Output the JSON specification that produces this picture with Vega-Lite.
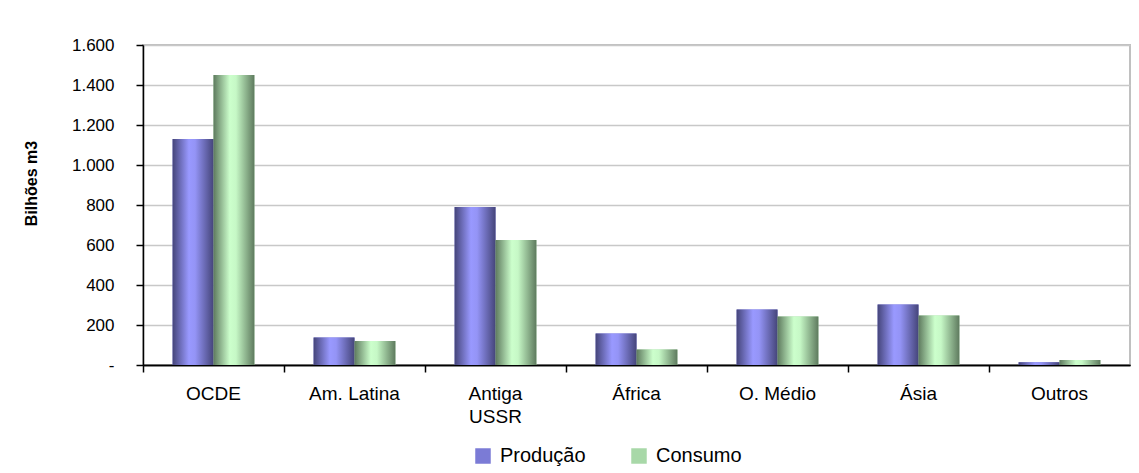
{
  "$schema": "https://vega.github.io/schema/vega-lite/v6.json",
  "width": 987,
  "height": 320,
  "autosize": {"type": "none"},
  "padding": {"left": 143, "top": 45, "right": 9, "bottom": 108},
  "background": "white",
  "config": {
    "font": "Liberation Sans",
    "view": {"stroke": "#c0c0c0", "strokeWidth": 2}
  },
  "data": {
    "values": [
      {"regiao": "OCDE", "serie": "Produção", "valor": 1130},
      {"regiao": "OCDE", "serie": "Consumo", "valor": 1450},
      {"regiao": "Am. Latina", "serie": "Produção", "valor": 137},
      {"regiao": "Am. Latina", "serie": "Consumo", "valor": 120},
      {"regiao": "Antiga USSR", "serie": "Produção", "valor": 790},
      {"regiao": "Antiga USSR", "serie": "Consumo", "valor": 625},
      {"regiao": "África", "serie": "Produção", "valor": 158},
      {"regiao": "África", "serie": "Consumo", "valor": 78},
      {"regiao": "O. Médio", "serie": "Produção", "valor": 278},
      {"regiao": "O. Médio", "serie": "Consumo", "valor": 243},
      {"regiao": "Ásia", "serie": "Produção", "valor": 302},
      {"regiao": "Ásia", "serie": "Consumo", "valor": 248},
      {"regiao": "Outros", "serie": "Produção", "valor": 14},
      {"regiao": "Outros", "serie": "Consumo", "valor": 25}
    ]
  },
  "resolve": {"axis": {"x": "independent"}},
  "encoding": {
    "xOffset": {"field": "serie", "type": "nominal", "sort": ["Produção", "Consumo"], "scale": {"paddingInner": 0, "paddingOuter": 0}},
    "y": {
      "field": "valor",
      "type": "quantitative",
      "scale": {"domain": [0, 1600]},
      "axis": {
        "title": "Bilhões m3",
        "titleFontSize": 16,
        "titleFontWeight": "bold",
        "titleColor": "#000000",
        "titleAngle": -90,
        "titleAlign": "center",
        "titleBaseline": "middle",
        "titleX": -112,
        "titleY": 138,
        "values": [0, 200, 400, 600, 800, 1000, 1200, 1400, 1600],
        "labelExpr": "datum.value == 0 ? '-' : replace(format(datum.value, ','), ',', '.')",
        "labelFontSize": 17,
        "labelColor": "#000000",
        "labelPadding": 22,
        "tickSize": 7,
        "tickColor": "#000000",
        "tickWidth": 1.5,
        "domainColor": "#000000",
        "domainWidth": 1.5,
        "gridColor": "#c8c8c8",
        "gridWidth": 1.5
      }
    }
  },
  "layer": [
    {
      "mark": {"type": "bar"},
      "encoding": {
        "x": {
          "field": "regiao",
          "type": "nominal",
          "sort": null,
          "scale": {"paddingInner": 0.42, "paddingOuter": 0.21},
          "axis": {
            "orient": "bottom",
            "title": null,
            "labelAngle": 0,
            "labelFontSize": 19,
            "labelColor": "#000000",
            "labelPadding": 19,
            "labelLineHeight": 23,
            "labelExpr": "datum.value == 'Antiga USSR' ? ['Antiga', 'USSR'] : datum.value",
            "ticks": false,
            "domainColor": "#000000",
            "domainWidth": 1.5,
            "grid": false
          }
        },
        "color": {
          "field": "serie",
          "type": "nominal",
          "sort": ["Produção", "Consumo"],
          "scale": {"domain": ["Produção", "Consumo"], "range": ["#7b7bd6", "#a8d8a8"]},
          "legend": {
            "title": null,
            "orient": "none",
            "direction": "horizontal",
            "legendX": 330,
            "legendY": 401,
            "symbolType": "square",
            "symbolSize": 240,
            "symbolStrokeWidth": 0,
            "symbolOpacity": 1,
            "labelFontSize": 20,
            "labelColor": "#000000",
            "labelOffset": 7,
            "columnPadding": 43
          }
        }
      }
    },
    {
      "mark": {"type": "bar"},
      "encoding": {
        "x": {
          "field": "regiao",
          "type": "nominal",
          "sort": null,
          "axis": {
            "orient": "bottom",
            "title": null,
            "labels": false,
            "ticks": true,
            "bandPosition": -0.362,
            "tickSize": 7,
            "tickColor": "#000000",
            "tickWidth": 1.5,
            "domainColor": "#000000",
            "domainWidth": 1.5,
            "grid": false
          }
        },
        "color": {
          "condition": {
            "test": "datum.serie == 'Produção'",
            "value": {"gradient": "linear", "x1": 0, "x2": 1, "y1": 0, "y2": 0, "stops": [
              {"offset": 0, "color": "#45457a"},
              {"offset": 0.4, "color": "#9999ff"},
              {"offset": 0.55, "color": "#9494f6"},
              {"offset": 1, "color": "#45457a"}
            ]}
          },
          "value": {"gradient": "linear", "x1": 0, "x2": 1, "y1": 0, "y2": 0, "stops": [
            {"offset": 0, "color": "#5e7a5e"},
            {"offset": 0.4, "color": "#ccffcc"},
            {"offset": 0.55, "color": "#c6f8c6"},
            {"offset": 1, "color": "#5e7a5e"}
          ]}
        }
      }
    }
  ]
}
